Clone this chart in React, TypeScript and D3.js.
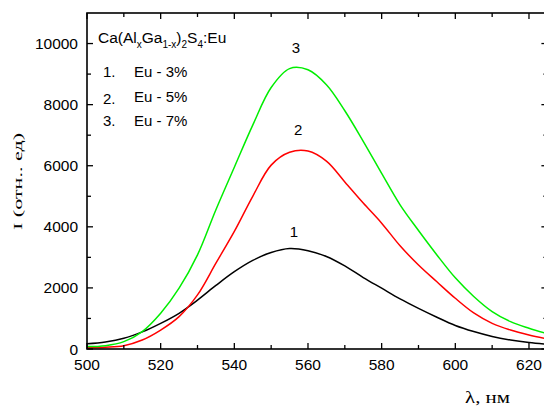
import React from "react";
import * as d3 from "d3";

const wavelengths = [500,505,510,515,520,525,530,535,540,545,550,555,560,565,570,575,580,585,590,595,600,605,610,615,620,625];
const eu3 = [170,230,350,560,840,1170,1600,2080,2530,2900,3160,3290,3220,3030,2720,2340,1990,1640,1330,1040,770,570,410,295,210,150];
const eu5 = [40,60,110,295,620,1060,1770,2810,3850,5000,6020,6440,6480,6150,5470,4780,4120,3380,2750,2200,1660,1180,840,620,460,330];
const eu7 = [80,110,240,570,1170,1990,3080,4560,5950,7330,8560,9180,9140,8650,7800,6800,5750,4720,3880,3080,2330,1720,1225,895,680,500];
const seriesColors = ["#000000", "#ff0000", "#00ee00"];
const curveLabels = ["1", "2", "3"];
const curveLabelAt = [[556.2, 3666], [557.3, 7005], [556.7, 9690]];
const xMajor = [500, 520, 540, 560, 580, 600, 620];
const xMinor = [510, 530, 550, 570, 590, 610];
const yMajor = [0, 2000, 4000, 6000, 8000, 10000];
const yMinor = [1000, 3000, 5000, 7000, 9000];
const legendItems = [["1.", "Eu - 3%"], ["2.", "Eu - 5%"], ["3.", "Eu - 7%"]];

const W = 544, H = 406;
const L = 87, R = 547.4, T = 13, B = 349;

export default function App() {
  const x = d3.scaleLinear().domain([500, 625]).range([L, R]);
  const y = d3.scaleLinear().domain([0, 11000]).range([B, T]);
  const line = d3.line<number>()
    .x((_, i) => x(wavelengths[i]))
    .y((d) => y(d))
    .curve(d3.curveCatmullRom.alpha(0.5));
  const series = [eu3, eu5, eu7];
  const font = "Arial, 'Liberation Sans', sans-serif";
  const serif = "'Times New Roman', 'Liberation Serif', serif";
  const legendY = [[77, 77], [104, 102], [126, 126]];
  return (
    <svg width={W} height={H} style={{ position: "absolute", left: 0, top: 0, background: "#fff" }}>
      <defs>
        <clipPath id="plot"><rect x={L} y={T} width={R - L} height={B - T} /></clipPath>
      </defs>
      <g clipPath="url(#plot)">
        {series.map((s, i) => (
          <path key={i} d={line(s) || ""} fill="none" stroke={seriesColors[i]} strokeWidth={1.5} />
        ))}
      </g>
      <rect x={L} y={T} width={R - L} height={B - T} fill="none" stroke="#000" strokeWidth={1.6} />
      {xMajor.map((v) => (
        <g key={"xm" + v}>
          <line x1={x(v)} x2={x(v)} y1={B} y2={B - 6} stroke="#000" strokeWidth={1.3} />
          <line x1={x(v)} x2={x(v)} y1={T} y2={T + 6} stroke="#000" strokeWidth={1.3} />
          <text x={x(v)} y={370} textAnchor="middle" fontFamily={font} fontSize={15.5} fill="#000">{v}</text>
        </g>
      ))}
      {xMinor.map((v) => (
        <g key={"xn" + v}>
          <line x1={x(v)} x2={x(v)} y1={B} y2={B - 4} stroke="#000" strokeWidth={1.3} />
          <line x1={x(v)} x2={x(v)} y1={T} y2={T + 4} stroke="#000" strokeWidth={1.3} />
        </g>
      ))}
      {yMajor.map((v) => (
        <g key={"ym" + v}>
          <line x1={L} x2={L + 6} y1={y(v)} y2={y(v)} stroke="#000" strokeWidth={1.3} />
          <line x1={R} x2={R - 6} y1={y(v)} y2={y(v)} stroke="#000" strokeWidth={1.3} />
          <text x={78} y={y(v) + 5.5} textAnchor="end" fontFamily={font} fontSize={15.5} fill="#000">{v}</text>
        </g>
      ))}
      {yMinor.map((v) => (
        <g key={"yn" + v}>
          <line x1={L} x2={L + 4} y1={y(v)} y2={y(v)} stroke="#000" strokeWidth={1.3} />
          <line x1={R} x2={R - 4} y1={y(v)} y2={y(v)} stroke="#000" strokeWidth={1.3} />
        </g>
      ))}
      {curveLabels.map((t, i) => (
        <text key={"cl" + i} x={x(curveLabelAt[i][0])} y={y(curveLabelAt[i][1])} textAnchor="middle"
          fontFamily={font} fontSize={15} fill="#000">{t}</text>
      ))}
      <text x={98} y={43} fontFamily={font} fontSize={15.5} fill="#000">
        Ca(Al<tspan fontSize={10} dy={5}>x</tspan><tspan dy={-5}>Ga</tspan><tspan fontSize={10} dy={5}>1-x</tspan><tspan dy={-5}>)</tspan><tspan fontSize={10} dy={5}>2</tspan><tspan dy={-5}>S</tspan><tspan fontSize={10} dy={5}>4</tspan><tspan dy={-5}>:Eu</tspan>
      </text>
      {legendItems.map((it, i) => (
        <g key={"lg" + i}>
          <text x={103} y={legendY[i][0]} fontFamily={font} fontSize={15} fill="#000">{it[0]}</text>
          <text x={134} y={legendY[i][1]} fontFamily={font} fontSize={15} fill="#000">{it[1]}</text>
        </g>
      ))}
      <text transform="translate(22,230) rotate(-90)" fontFamily={serif} fontSize={13} fill="#000"
        textLength={97} lengthAdjust="spacingAndGlyphs">I (отн.. ед)</text>
      <text x={465} y={403} fontFamily={serif} fontSize={16} fill="#000"
        textLength={45} lengthAdjust="spacingAndGlyphs">λ, нм</text>
    </svg>
  );
}
